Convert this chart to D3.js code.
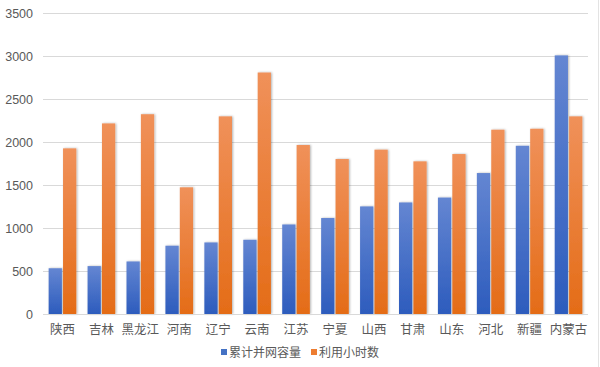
<!DOCTYPE html>
<html>
<head>
<meta charset="utf-8">
<script src="https://cdn.jsdelivr.net/npm/d3@7"></script>
<style>
  body { margin: 0; background: #fff; }
  text { font-family: "Liberation Sans", "Noto Sans CJK SC", sans-serif; fill: #595959; }
  .cjk { font-family: "Noto Sans CJK SC", sans-serif; }
</style>
</head>
<body>
<svg id="chart" width="600" height="367"></svg>
<script>
const provinces = ['陕西', '吉林', '黑龙江', '河南', '辽宁', '云南', '江苏', '宁夏', '山西', '甘肃', '山东', '河北', '新疆', '内蒙古'];
const capacity = [532, 557, 611, 794, 832, 863, 1041, 1116, 1251, 1297, 1354, 1639, 1956, 3007];
const hours = [1926, 2216, 2323, 1473, 2298, 2808, 1965, 1802, 1911, 1775, 1860, 2143, 2154, 2298];
const seriesNames = ['累计并网容量', '利用小时数'];
const yTicks = [0, 500, 1000, 1500, 2000, 2500, 3000, 3500];

const width = 600;
const height = 367;
const plotLeft = 43;
const plotRight = 588;
const plotTop = 13;
const plotBottom = 314;

const svg = d3.select('#chart');

const defs = svg.append('defs');
const grads = [['gBlue', '#6486d2', '#2d5cbd'], ['gOrange', '#f0915a', '#e46c17']];
grads.forEach(([id, c1, c2]) => {
  const g = defs.append('linearGradient').attr('id', id)
    .attr('x1', 0).attr('y1', 0).attr('x2', 0).attr('y2', 1);
  g.append('stop').attr('offset', '0%').attr('stop-color', c1);
  g.append('stop').attr('offset', '100%').attr('stop-color', c2);
});
const shadow = defs.append('filter').attr('id', 'shadow')
  .attr('x', '-30%').attr('y', '-5%').attr('width', '160%').attr('height', '110%');
shadow.append('feDropShadow').attr('dx', 1).attr('dy', 0).attr('stdDeviation', 1)
  .attr('flood-color', '#000').attr('flood-opacity', 0.3);

// faint frame on the right
svg.append('line')
  .attr('x1', 598.5).attr('x2', 598.5).attr('y1', 0).attr('y2', height)
  .attr('stroke', '#e3e3e3');

const x = d3.scaleBand()
  .domain(provinces)
  .range([plotLeft, plotRight])
  .paddingInner(0.29)
  .paddingOuter(0.145);

const inner = d3.scaleBand()
  .domain([0, 1])
  .range([0, x.bandwidth()])
  .paddingInner(0.08);

const y = d3.scaleLinear()
  .domain([0, 3500])
  .range([plotBottom, plotTop]);

// gridlines
svg.append('g')
  .selectAll('line')
  .data(yTicks)
  .enter()
  .append('line')
  .attr('x1', plotLeft)
  .attr('x2', plotRight)
  .attr('y1', (d) => Math.round(y(d)) + 0.5)
  .attr('y2', (d) => Math.round(y(d)) + 0.5)
  .attr('stroke', '#d9d9d9');

// y labels
svg.append('g')
  .selectAll('text')
  .data(yTicks)
  .enter()
  .append('text')
  .text((d) => d)
  .attr('x', 33)
  .attr('y', (d) => y(d) + 4.5)
  .attr('text-anchor', 'end')
  .style('font-size', '12.5px');

const rows = provinces.map((p, i) => ({ p, vals: [capacity[i], hours[i]] }));

const groups = svg.append('g')
  .selectAll('g')
  .data(rows)
  .enter()
  .append('g')
  .attr('transform', (d) => `translate(${x(d.p)},0)`);

groups.selectAll('rect')
  .data((d) => d.vals.map((v, k) => ({ v, k })))
  .enter()
  .append('rect')
  .attr('x', (d) => inner(d.k))
  .attr('width', inner.bandwidth())
  .attr('y', (d) => y(d.v))
  .attr('height', (d) => y(0) - y(d.v))
  .attr('fill', (d) => (d.k === 0 ? 'url(#gBlue)' : 'url(#gOrange)'))
  .attr('filter', 'url(#shadow)');

// x axis line
svg.append('line')
  .attr('x1', plotLeft).attr('x2', plotRight)
  .attr('y1', plotBottom + 0.5).attr('y2', plotBottom + 0.5)
  .attr('stroke', '#d9d9d9');

// x labels
svg.append('g')
  .selectAll('text')
  .data(provinces)
  .enter()
  .append('text')
  .attr('class', 'cjk')
  .text((d) => d)
  .attr('x', (d) => x(d) + x.bandwidth() / 2)
  .attr('y', 334)
  .attr('text-anchor', 'middle')
  .style('font-size', '12.5px');

// legend
const legendX = [221, 311];
const legend = svg.append('g');
legend.selectAll('rect')
  .data(seriesNames)
  .enter()
  .append('rect')
  .attr('x', (d, i) => legendX[i])
  .attr('y', 349)
  .attr('width', 6)
  .attr('height', 6)
  .attr('fill', (d, i) => (i === 0 ? '#4472c4' : '#ed7d31'));
legend.selectAll('text')
  .data(seriesNames)
  .enter()
  .append('text')
  .attr('class', 'cjk')
  .text((d) => d)
  .attr('x', (d, i) => legendX[i] + 8)
  .attr('y', 357)
  .style('font-size', '12px');
</script>
</body>
</html>
